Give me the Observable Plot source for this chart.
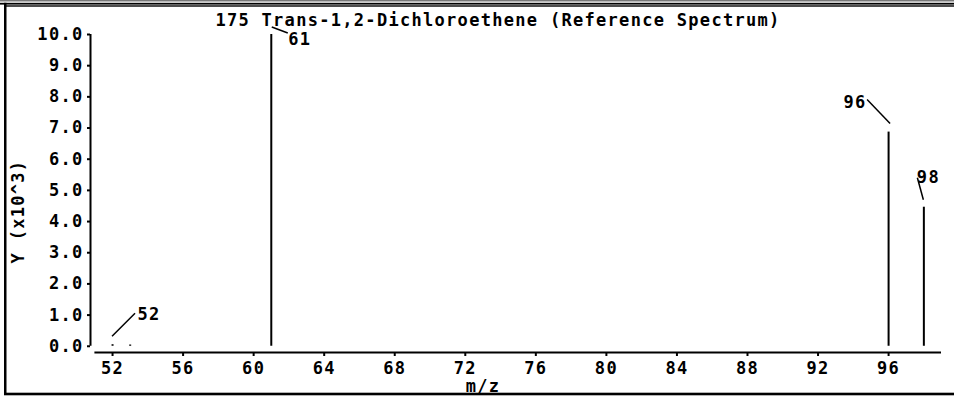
<!DOCTYPE html>
<html><head><meta charset="utf-8">
<script src="https://cdn.jsdelivr.net/npm/d3@7"></script>
<script src="https://cdn.jsdelivr.net/npm/@observablehq/plot@0.6"></script>
<style>
html,body{margin:0;padding:0;background:#fff;}
</style>
</head><body><div id="chart"></div>
<script>
// ---- data ----
const title = "175 Trans-1,2-Dichloroethene (Reference Spectrum)";
const xLabel = "m/z";
const yLabel = "Y (x10^3)";
const mzValues = [52, 53, 61, 96, 98];
const intensities = [0.05, 0.04, 10.0, 6.87, 4.46];
const xTicks = [52, 56, 60, 64, 68, 72, 76, 80, 84, 88, 92, 96];
const yTicks = [0, 1, 2, 3, 4, 5, 6, 7, 8, 9, 10];

// ---- annotation layout (pixel offsets from peak top) ----
const labelLayout = [
  {mz: 52, tx: 25, ty: -30, anchor: "start", lx1: 0, ly1: -8, lx2: 23, ly2: -31},
  {mz: 61, tx: 17, ty: 5, anchor: "start", lx1: 1, ly1: -7, lx2: 17, ly2: -1},
  {mz: 96, tx: -22, ty: -30, anchor: "end", lx1: 2, ly1: -8, lx2: -21, ly2: -32},
  {mz: 98, tx: -7, ty: -30, anchor: "start", lx1: 0, ly1: -7, lx2: -6, ly2: -29}
];

const peaks = mzValues.map((mz, i) => ({mz, intensity: intensities[i]}));
const topOf = mz => intensities[mzValues.indexOf(mz)];

function leaders(index, scales) {
  const g = d3.create("svg:g").attr("stroke", "#000").attr("stroke-width", 1.5).attr("fill", "none");
  for (const a of labelLayout) {
    const x = scales.x(a.mz), y = scales.y(topOf(a.mz));
    g.append("line").attr("x1", x + a.lx1).attr("y1", y + a.ly1).attr("x2", x + a.lx2).attr("y2", y + a.ly2);
  }
  return g.node();
}

function pageFrame(index, scales, values, dims) {
  const {width, height} = dims;
  const g = d3.create("svg:g").attr("fill", "#000");
  g.append("rect").attr("x", 0).attr("y", 0).attr("width", width).attr("height", 1.5).attr("fill", "#777");
  g.append("rect").attr("x", 0).attr("y", 2.8).attr("width", width).attr("height", 1.8);
  g.append("rect").attr("x", 4).attr("y", 5.3).attr("width", width - 4).attr("height", 1.4);
  g.append("rect").attr("x", 4).attr("y", 2.8).attr("width", 2.5).attr("height", height - 5);
  g.append("rect").attr("x", 4).attr("y", height - 4.3).attr("width", width - 4).attr("height", 2.6);
  return g.node();
}

const labelMarks = labelLayout.map(a => Plot.text([a], {
  x: d => d.mz, y: d => topOf(d.mz), text: d => String(d.mz),
  dx: a.tx, dy: a.ty, textAnchor: a.anchor, lineAnchor: "middle"
}));

const chart = Plot.plot({
  width: 954, height: 397,
  marginLeft: 90, marginRight: 13, marginTop: 34, marginBottom: 45,
  x: {domain: [50.75, 99]},
  y: {domain: [-0.2, 10]},
  style: {fontFamily: "'DejaVu Sans Mono', monospace", fontSize: "17px", fontWeight: "bold", letterSpacing: "1.3px", color: "#000", background: "#fff"},
  marks: [
    pageFrame,
    Plot.axisX({ticks: xTicks, tickSize: 4, tickPadding: 5, strokeWidth: 2, label: null, tickFormat: d => String(d)}),
    Plot.axisY({ticks: yTicks, tickSize: 3, tickPadding: 4, strokeWidth: 2, label: null, tickFormat: d3.format(".1f")}),
    Plot.ruleY([-0.2], {x1: 51, x2: 99, strokeWidth: 2}),
    Plot.ruleX([50.75], {y1: 0, y2: 10, strokeWidth: 2}),
    Plot.ruleX(peaks, {x: "mz", y1: 0, y2: "intensity", strokeWidth: 2}),
    leaders,
    ...labelMarks,
    Plot.text([title], {frameAnchor: "top", lineAnchor: "middle", textAnchor: "middle", text: d => d, dx: -18, dy: -14}),
    Plot.text([xLabel], {frameAnchor: "bottom", lineAnchor: "middle", textAnchor: "middle", text: d => d, dx: -33, dy: 34}),
    Plot.text([yLabel], {frameAnchor: "left", lineAnchor: "middle", textAnchor: "middle", text: d => d, rotate: -90, dx: -72, dy: 18})
  ]
});
document.getElementById("chart").appendChild(chart);
</script>
</body></html>
